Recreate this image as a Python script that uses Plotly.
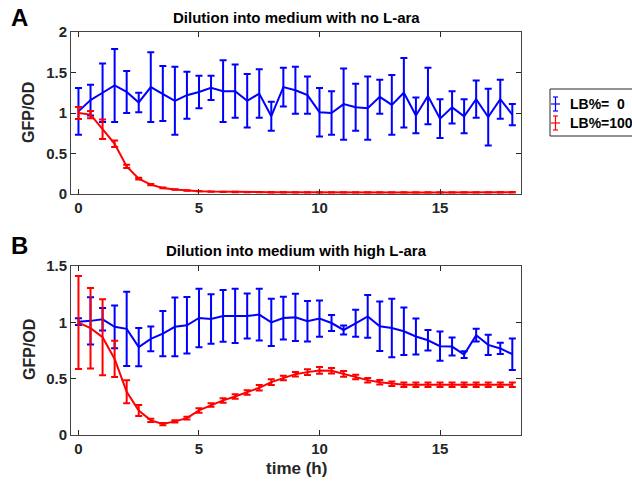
import plotly.graph_objects as go

time_h = [i * 0.5 for i in range(37)]

# Panel A: dilution into medium with no L-ara
a_lb0_mean = [1.02, 1.16, 1.25, 1.34, 1.26, 1.13, 1.32, 1.24, 1.15, 1.22, 1.26, 1.31, 1.27, 1.27,
              1.15, 1.24, 0.96, 1.32, 1.28, 1.22, 1.01, 1.00, 1.11, 1.07, 1.06, 1.20, 1.10, 1.25,
              0.97, 1.21, 0.93, 1.07, 0.96, 1.17, 0.95, 1.17, 0.98]
a_lb0_err = [0.29, 0.19, 0.36, 0.45, 0.26, 0.12, 0.43, 0.34, 0.42, 0.29, 0.20, 0.15, 0.38, 0.33,
             0.33, 0.30, 0.18, 0.24, 0.29, 0.23, 0.30, 0.27, 0.44, 0.29, 0.39, 0.21, 0.37, 0.43,
             0.22, 0.35, 0.24, 0.20, 0.21, 0.23, 0.35, 0.24, 0.13]
a_lb100_mean = [1.00, 0.98, 0.80, 0.62, 0.34, 0.19, 0.115, 0.075, 0.055, 0.042, 0.035, 0.030, 0.027,
                0.025, 0.024, 0.023, 0.022, 0.022, 0.021, 0.021, 0.021, 0.020, 0.020, 0.020, 0.020,
                0.020, 0.020, 0.020, 0.020, 0.020, 0.020, 0.020, 0.021, 0.021, 0.021, 0.022, 0.022]
a_lb100_err = [0.075, 0.045, 0.12, 0.04, 0.02, 0.012, 0.008, 0.005, 0.004, 0.003, 0.002, 0.002, 0.002,
               0.002, 0.002, 0.002, 0.002, 0.002, 0.002, 0.002, 0.002, 0.002, 0.002, 0.002, 0.002,
               0.002, 0.002, 0.002, 0.002, 0.002, 0.002, 0.002, 0.002, 0.002, 0.002, 0.002, 0.002]

# Panel B: dilution into medium with high L-ara
b_lb0_mean = [1.006, 1.013, 1.027, 0.96, 0.942, 0.78, 0.853, 0.90, 0.96, 0.974, 1.039, 1.03, 1.057,
              1.057, 1.057, 1.069, 1.00, 1.038, 1.044, 1.009, 1.033, 0.994, 0.932, 0.991, 1.053,
              0.965, 0.95, 0.921, 0.874, 0.841, 0.788, 0.785, 0.714, 0.886, 0.80, 0.768, 0.717]
b_lb0_err = [0.03, 0.21, 0.10, 0.19, 0.33, 0.17, 0.11, 0.20, 0.26, 0.25, 0.26, 0.22, 0.23, 0.24,
             0.20, 0.23, 0.21, 0.19, 0.21, 0.18, 0.16, 0.07, 0.04, 0.12, 0.19, 0.22, 0.26, 0.21,
             0.16, 0.09, 0.13, 0.08, 0.03, 0.056, 0.09, 0.05, 0.14]
b_lb100_mean = [0.998, 0.948, 0.868, 0.675, 0.384, 0.217, 0.13, 0.097, 0.121, 0.15, 0.218, 0.266,
                0.307, 0.342, 0.378, 0.419, 0.469, 0.505, 0.54, 0.558, 0.573, 0.57, 0.543, 0.514,
                0.487, 0.469, 0.455, 0.446, 0.445, 0.445, 0.445, 0.445, 0.445, 0.445, 0.445, 0.445, 0.445]
b_lb100_err = [0.413, 0.357, 0.337, 0.161, 0.103, 0.049, 0.015, 0.01, 0.01, 0.012, 0.02, 0.015,
               0.02, 0.02, 0.02, 0.025, 0.025, 0.02, 0.02, 0.025, 0.03, 0.025, 0.025, 0.02,
               0.02, 0.02, 0.02, 0.02, 0.02, 0.02, 0.02, 0.02, 0.02, 0.02, 0.02, 0.02, 0.02]

series_names = ["LB%=  0", "LB%=100"]
panel_titles = ["Dilution into medium with no L-ara", "Dilution into medium with high L-ara"]
panel_letters = ["A", "B"]
y_title = "GFP/OD"
x_title = "time (h)"
a_yticks = [0, 0.5, 1, 1.5, 2]
a_yticklabels = ["0", "0.5", "1", "1.5", "2"]
b_yticks = [0, 0.5, 1, 1.5]
b_yticklabels = ["0", "0.5", "1", "1.5"]
xticks = [0, 5, 10, 15]

BLUE = "#0000FF"
RED = "#FF0000"
FONT = "Liberation Sans"
TXT = "#262626"

fig = go.Figure()

def add_series(y, err, color, name, xa, ya):
    fig.add_trace(go.Scatter(
        x=time_h, y=y, mode="lines", name=name, showlegend=False,
        line=dict(color=color, width=2),
        error_y=dict(type="data", array=err, visible=True, color=color, thickness=2, width=3.5),
        xaxis=xa, yaxis=ya))

add_series(a_lb0_mean, a_lb0_err, BLUE, series_names[0], "x", "y")
add_series(a_lb100_mean, a_lb100_err, RED, series_names[1], "x", "y")
add_series(b_lb0_mean, b_lb0_err, BLUE, series_names[0], "x2", "y2")
add_series(b_lb100_mean, b_lb100_err, RED, series_names[1], "x2", "y2")

W, H = 632, 483
xdom = [71 / W, 521 / W]
common_x = dict(range=[-0.31, 18.36], tickvals=xticks, ticktext=[f"<b>{t}</b>" for t in xticks],
                ticks="inside", ticklen=5, tickwidth=1,
                tickcolor=TXT, showline=True, linecolor="#444444", linewidth=1, mirror="ticks",
                showgrid=False, zeroline=False, automargin=False,
                tickfont=dict(family=FONT, size=15, color=TXT))
common_y = dict(ticks="inside", ticklen=5, tickwidth=1, tickcolor=TXT, showline=True,
                linecolor="#444444", linewidth=1, mirror="ticks", showgrid=False, zeroline=False,
                automargin=False, tickfont=dict(family=FONT, size=15, color=TXT))

fig.update_layout(
    width=W, height=H,
    margin=dict(l=0, r=0, t=0, b=0),
    paper_bgcolor="white", plot_bgcolor="white",
    font=dict(family=FONT, color=TXT),
    showlegend=False,
    xaxis=dict(domain=xdom, anchor="y", **common_x),
    yaxis=dict(domain=[1 - 194 / H, 1 - 32 / H], anchor="x", range=[0, 2], tickvals=a_yticks,
               ticktext=[f"<b>{t}</b>" for t in a_yticklabels], **common_y),
    xaxis2=dict(domain=xdom, anchor="y2", **common_x),
    yaxis2=dict(domain=[1 - 435 / H, 1 - 266 / H], anchor="x2", range=[0, 1.5], tickvals=b_yticks,
                ticktext=[f"<b>{t}</b>" for t in b_yticklabels], **common_y),
)

def px(x):
    return x / W

def py(y):
    return 1 - y / H

def ann(text, x, y, size, angle=0, color="black", xanchor="center"):
    return dict(text=f"<b>{text}</b>", x=px(x), y=py(y), xref="paper", yref="paper",
                showarrow=False, font=dict(family=FONT, size=size, color=color),
                xanchor=xanchor, yanchor="middle", textangle=angle)

annotations = [
    ann(panel_titles[0], 296, 18, 15),
    ann(panel_titles[1], 296, 251, 15),
    ann(panel_letters[0], 19, 18, 24),
    ann(panel_letters[1], 19, 245, 24),
    ann(y_title, 29, 113, 16, -90, TXT),
    ann(y_title, 29, 350, 16, -90, TXT),
    ann(x_title, 296, 468, 17, 0, TXT),
]

# manual MATLAB-style legend (box, errorbar icons, labels)
shapes = [dict(type="rect", xref="paper", yref="paper", x0=px(550), x1=px(640), y0=py(136), y1=py(89),
               line=dict(color=TXT, width=1), fillcolor="white", layer="above")]
legend_rows_y = [104, 123]
for name, color, yc in zip(series_names, [BLUE, RED], legend_rows_y):
    xc = 555.5
    seg = lambda x0, y0, x1, y1, w=1.2: dict(type="line", xref="paper", yref="paper",
                                             x0=px(x0), y0=py(y0), x1=px(x1), y1=py(y1),
                                             line=dict(color=color, width=w), layer="above")
    shapes += [seg(xc, yc - 7, xc, yc + 7), seg(xc - 2.5, yc - 7, xc + 2.5, yc - 7),
               seg(xc - 2.5, yc + 7, xc + 2.5, yc + 7), seg(551, yc, 560, yc)]
    annotations.append(ann(name, 568, yc, 14, 0, "black", "left"))

fig.update_layout(annotations=annotations, shapes=shapes)

fig.write_html("out.html")
